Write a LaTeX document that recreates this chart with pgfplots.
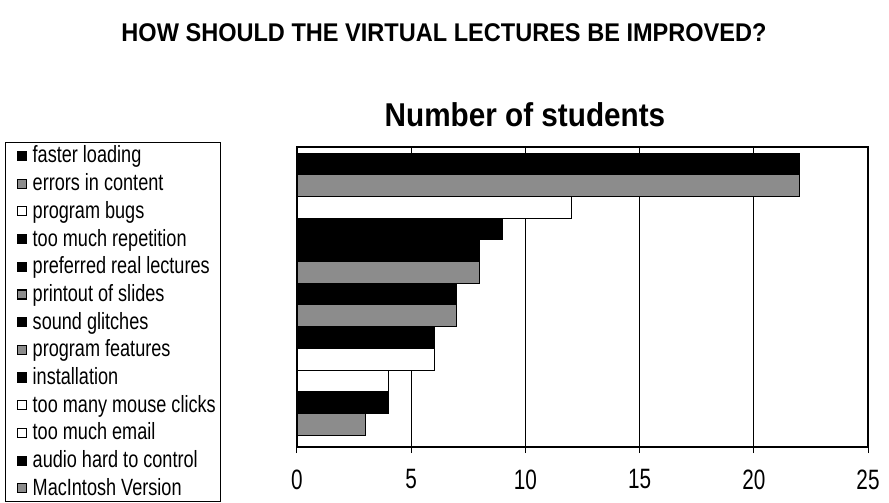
\documentclass[border=0pt]{standalone}
\usepackage{fontspec}
\setmainfont{Liberation Sans}
\newfontfamily\TitleFont{Liberation Sans}[FakeStretch=0.92]
\newfontfamily\AxTitleFont{Liberation Sans}[FakeStretch=0.9]
\newfontfamily\LegFamily{Liberation Sans}[FakeStretch=0.77]
\newfontfamily\TickFamily{Liberation Sans}[FakeStretch=0.74]
\usepackage{pgfplots}
\pgfplotsset{compat=1.18}
\newcommand\LegFont{\LegFamily\fontsize{23.5}{26}\selectfont}
\newcommand\TickFont{\TickFamily\fontsize{28}{30}\selectfont}
\pgfplotsset{
  mybar/.style={xbar, bar width=1, bar shift=0pt, draw=black, line width=0.9pt,
    legend image code/.code={\path[draw=none, fill=none] (0pt,0pt) -- (22pt,0pt);
      \draw[##1, line width=1.2pt] (7pt,-4.5pt) rectangle (16pt,4.5pt);}},
}
\begin{document}
\begin{tikzpicture}
\useasboundingbox (0,0) rectangle (889pt,503pt);
\node[font=\TitleFont\bfseries\fontsize{25.6}{30}\selectfont, anchor=base] at (444pt,461pt) {HOW SHOULD THE VIRTUAL LECTURES BE IMPROVED?};
\node[font=\AxTitleFont\bfseries\fontsize{33}{38}\selectfont, anchor=base] at (525pt,376pt) {Number of students};
\begin{axis}[
  at={(297pt,56pt)}, anchor=south west,
  width=571pt, height=300pt, scale only axis,
  xmin=0, xmax=25, ymin=0.22, ymax=14.05, y dir=reverse,
  xtick={0,5,10,15,20,25}, ytick=\empty,
  xtick pos=bottom, tick align=outside, major tick length=6pt,
  xmajorgrids, grid style={black, line width=0.9pt},
  axis line style={black, line width=1.1pt},
  tick style={black, line width=1pt},
  /pgf/number format/assume math mode=true,
  xticklabel style={font=\TickFont, yshift=-13pt},
  legend cell align=left,
  legend style={at={(axis description cs:-0.511,1.017)}, anchor=north west,
    draw=black, line width=1pt, font=\LegFont, row sep=9.7pt, inner sep=4.5pt,
    column sep=0pt,
    nodes={inner sep=0.5pt, text height=15.5pt, text depth=1.5pt}},
]
\addplot[mybar, fill=black] coordinates {(22,1)};
\addlegendentry{faster loading}
\addplot[mybar, fill=black!45] coordinates {(22,2)};
\addlegendentry{errors in content}
\addplot[mybar, fill=white] coordinates {(12,3)};
\addlegendentry{program bugs}
\addplot[mybar, fill=black] coordinates {(9,4)};
\addlegendentry{too much repetition}
\addplot[mybar, fill=black] coordinates {(8,5)};
\addlegendentry{preferred real lectures}
\addplot[mybar, fill=black!45] coordinates {(8,6)};
\addlegendentry{printout of slides}
\addplot[mybar, fill=black] coordinates {(7,7)};
\addlegendentry{sound glitches}
\addplot[mybar, fill=black!45] coordinates {(7,8)};
\addlegendentry{program features}
\addplot[mybar, fill=black] coordinates {(6,9)};
\addlegendentry{installation}
\addplot[mybar, fill=white] coordinates {(6,10)};
\addlegendentry{too many mouse clicks}
\addplot[mybar, fill=white] coordinates {(4,11)};
\addlegendentry{too much email}
\addplot[mybar, fill=black] coordinates {(4,12)};
\addlegendentry{audio hard to control}
\addplot[mybar, fill=black!45] coordinates {(3,13)};
\addlegendentry{MacIntosh Version}
\end{axis}
\end{tikzpicture}
\end{document}
